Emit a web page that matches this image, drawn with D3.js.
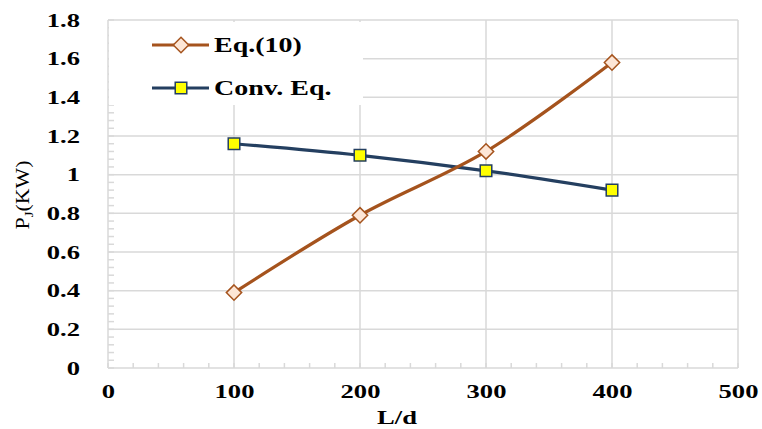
<!DOCTYPE html>
<html>
<head>
<meta charset="utf-8">
<script src="https://cdn.jsdelivr.net/npm/d3@7"></script>
<style>
  html, body { margin: 0; padding: 0; background: #fff; }
  svg { display: block; }
  text { font-family: "Liberation Serif", "Times New Roman", serif; fill: #000; }
</style>
</head>
<body>
<svg id="chart" width="762" height="429"></svg>
<script>
(function () {
  "use strict";

  // data
  const ldValues = [100, 200, 300, 400];
  const eq10 = [0.39, 0.79, 1.12, 1.58];
  const convEq = [1.16, 1.10, 1.02, 0.92];
  const seriesNames = ["Eq.(10)", "Conv. Eq."];
  const xTicks = [0, 100, 200, 300, 400, 500];
  const yTicks = [0, 0.2, 0.4, 0.6, 0.8, 1, 1.2, 1.4, 1.6, 1.8];

  const svg = d3.select("#chart");
  const x = d3.scaleLinear().domain([0, 500]).range([108, 738]);
  const y = d3.scaleLinear().domain([0, 1.8]).range([368, 20]);

  const gridColor = "#d9d9d9";
  const brown = "#a5531d";
  const navy = "#243f60";
  const stretch = 1.4;

  // grid
  const grid = svg.append("g").attr("stroke", gridColor).attr("stroke-width", 1.5);
  grid.selectAll("line.h").data(yTicks).join("line")
    .attr("x1", x(0)).attr("x2", x(500))
    .attr("y1", (d) => y(d)).attr("y2", (d) => y(d));
  grid.selectAll("line.v").data(xTicks).join("line")
    .attr("y1", y(0)).attr("y2", y(1.8))
    .attr("x1", (d) => x(d)).attr("x2", (d) => x(d));

  // minor ticks, inside the plot
  const yMinor = d3.range(0, 1.8001, 0.04);
  const xMinor = d3.range(0, 500.01, 20);
  grid.selectAll("line.ym").data(yMinor).join("line")
    .attr("x1", x(0)).attr("x2", x(0) + 6)
    .attr("y1", (d) => y(d)).attr("y2", (d) => y(d));
  grid.selectAll("line.xm").data(xMinor).join("line")
    .attr("y1", y(0)).attr("y2", y(0) - 5)
    .attr("x1", (d) => x(d)).attr("x2", (d) => x(d));

  // axes labels (library axes, domain + ticks hidden)
  const yAxis = svg.append("g")
    .attr("transform", `translate(${x(0) - 25},0)`)
    .call(d3.axisLeft(y).tickValues(yTicks).tickSize(0).tickFormat(d3.format("~g")));
  const xAxis = svg.append("g")
    .attr("transform", `translate(0,${y(0) + 14})`)
    .call(d3.axisBottom(x).tickValues(xTicks).tickSize(0).tickFormat(d3.format("d")));
  [yAxis, xAxis].forEach((ax) => {
    ax.select(".domain").remove();
    ax.selectAll("text")
      .attr("font-family", "Liberation Serif")
      .attr("font-weight", "bold")
      .attr("font-size", 19);
  });
  yAxis.selectAll(".tick text").each(function () {
    const t = d3.select(this);
    const tx = +t.attr("x") || 0;
    t.attr("x", 0).attr("transform", `translate(${tx},0) scale(${stretch},1)`);
  });
  xAxis.selectAll(".tick text").attr("transform", `scale(${stretch},1)`);

  // axis titles
  svg.append("text")
    .attr("transform", `translate(397,424) scale(${stretch},1)`)
    .attr("text-anchor", "middle")
    .attr("font-weight", "bold")
    .attr("font-size", 19)
    .text("L/d");

  const yt = svg.append("text")
    .attr("transform", "translate(29,195) rotate(-90) scale(1.15,1)")
    .attr("text-anchor", "middle")
    .attr("font-size", 19);
  yt.append("tspan").text("P");
  yt.append("tspan").attr("font-size", 13).attr("dy", 4).text("J");
  yt.append("tspan").attr("dy", -4).text("(KW)");

  // series
  const line = d3.line()
    .x((d, i) => x(ldValues[i]))
    .y((d) => y(d))
    .curve(d3.curveCatmullRom.alpha(0.5));

  svg.append("path").datum(convEq)
    .attr("fill", "none").attr("stroke", navy).attr("stroke-width", 3.2)
    .attr("d", line);
  svg.append("path").datum(eq10)
    .attr("fill", "none").attr("stroke", brown).attr("stroke-width", 3.2)
    .attr("d", line);

  const diamond = d3.symbol().type(d3.symbolDiamond2).size(150);
  const square = d3.symbol().type(d3.symbolSquare2).size(170);

  svg.append("g").selectAll("path").data(convEq).join("path")
    .attr("transform", (d, i) => `translate(${x(ldValues[i])},${y(d)})`)
    .attr("d", square)
    .attr("fill", "#ffff00").attr("stroke", navy).attr("stroke-width", 1.5);
  svg.append("g").selectAll("path").data(eq10).join("path")
    .attr("transform", (d, i) => `translate(${x(ldValues[i])},${y(d)})`)
    .attr("d", diamond)
    .attr("fill", "#fde6d6").attr("stroke", brown).attr("stroke-width", 1.5);

  // legend
  const legend = svg.append("g");
  legend.append("rect")
    .attr("x", x(0) + 1).attr("y", 22).attr("width", 254).attr("height", 83)
    .attr("fill", "#fff");
  const items = [
    { name: seriesNames[0], color: brown, sym: diamond, fill: "#fde6d6", y: 45 },
    { name: seriesNames[1], color: navy, sym: square, fill: "#ffff00", y: 88 },
  ];
  items.forEach((it) => {
    legend.append("line")
      .attr("x1", 152).attr("x2", 209).attr("y1", it.y).attr("y2", it.y)
      .attr("stroke", it.color).attr("stroke-width", 3.2);
    legend.append("path")
      .attr("transform", `translate(181,${it.y})`)
      .attr("d", it.sym)
      .attr("fill", it.fill).attr("stroke", it.color).attr("stroke-width", 1.5);
    legend.append("text")
      .attr("transform", `translate(214,${it.y + 7}) scale(1.4,1)`)
      .attr("font-weight", "bold")
      .attr("font-size", 20)
      .text(it.name);
  });
})();
</script>
</body>
</html>
